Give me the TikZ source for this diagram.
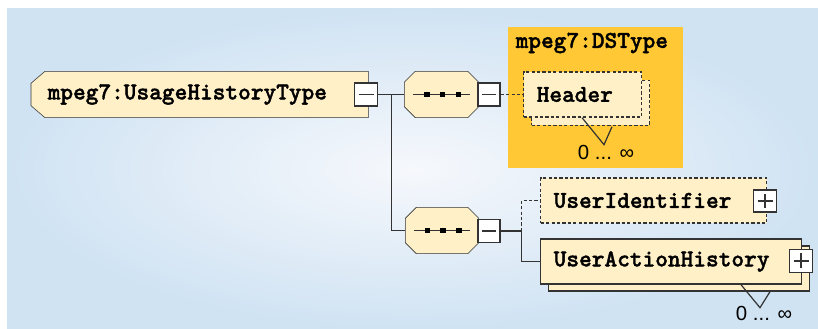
\documentclass[tikz,border=0pt]{standalone}
\usepackage{fontspec}
\newfontfamily\schemasans{Liberation Sans}
\newfontfamily\schemamono{lmmonolt10-bold.otf}[FakeBold=1.5]
\usetikzlibrary{positioning,shadows,backgrounds}

\definecolor{elemfill}{HTML}{FFF0C8}
\definecolor{dsorange}{HTML}{FFC834}
\definecolor{linegray}{HTML}{333333}
\definecolor{bgblue}{HTML}{D0E3F3}
\definecolor{bglight}{HTML}{F6F8FC}

\begin{document}
\begin{tikzpicture}[x=0.25mm, y=-0.25mm, line width=0.35mm,
  every node/.style={font=\schemamono\fontsize{17.2}{20}\selectfont},
  elem/.style={draw=linegray, fill=elemfill, rectangle, anchor=west,
    minimum height=11.25mm, inner xsep=3.25mm, inner ysep=0pt, align=left},
  shapeonly/.style={rectangle, inner sep=0pt, minimum height=11.25mm},
  seqicon/.style={path picture={
      \draw[linegray, line width=0.4mm]
        ([xshift=2mm]path picture bounding box.west) --
        ([xshift=-2mm]path picture bounding box.east);
      \foreach \d in {-3.6mm,0.2mm,4.2mm}
        \fill[black] ([xshift=\d]path picture bounding box.center)
          +(-0.7mm,-0.7mm) rectangle +(0.7mm,0.7mm);
    }},
  togglebox/.style={draw=linegray, fill=white, rectangle, inner sep=0pt,
    minimum width=5.75mm, minimum height=5.75mm},
  minbox/.style={togglebox, path picture={
      \draw[linegray, line width=0.45mm]
        ([xshift=1mm]path picture bounding box.west) --
        ([xshift=-1mm]path picture bounding box.east);}},
  plusbox/.style={togglebox, path picture={
      \draw[linegray, line width=0.4mm]
        ([xshift=1mm]path picture bounding box.west) --
        ([xshift=-1mm]path picture bounding box.east);
      \draw[linegray, line width=0.4mm]
        ([yshift=1mm]path picture bounding box.south) --
        ([yshift=-1mm]path picture bounding box.north);}},
  optional/.style={dash pattern=on 0.8mm off 0.55mm},
  card/.style={font=\schemasans\fontsize{14.5}{16}\selectfont, inner sep=0pt},
  wire/.style={draw=linegray},
  outline/.style={draw=linegray, fill=elemfill}]

  % achtergrond
  \useasboundingbox (0,0) rectangle (818,329);
  \begin{scope}[on background layer]
    \shade[inner color=bglight, outer color=bgblue] (7,9) rectangle (818,329);
  \end{scope}

  % DSType-kader
  \fill[dsorange] (508,27) rectangle (683,168);
  \node[anchor=west, inner sep=0pt] (dstitle) at (515,43) {mpeg7:DSType};

  % hoofdtype (omtrek komt later op de achtergrondlaag)
  \node[shapeonly, anchor=west, minimum width=84mm, text width=76.5mm,
    align=left] (usage) at (31,94.5) {\hspace*{0.25mm}mpeg7:UsageHistoryType};
  \node[minbox] (usagemin) at (366,94.5) {};

  % sequenties
  \node[shapeonly, minimum width=18.25mm, seqicon] (seqa) at (441.5,94.5) {};
  \node[minbox, minimum width=5.5mm] (seqamin) at (489,94.5) {};
  \node[shapeonly, minimum width=18mm, seqicon] (seqb) at (442,230.5) {};
  \node[minbox, minimum width=5.5mm] (seqbmin) at (489,231) {};

  % achtergrondlaag: afgeschuinde omtrekken
  \begin{scope}[on background layer]
    \draw[outline] ([xshift=3.5mm]usage.north west) -- (usage.north east)
      -- (usage.south east) -- ([xshift=3.5mm]usage.south west)
      -- ([yshift=3mm]usage.south west) -- ([yshift=-3mm]usage.north west)
      -- cycle;
    \foreach \s in {seqa,seqb}
      \draw[outline] ([xshift=2.75mm]\s.north west)
        -- ([xshift=-2.75mm]\s.north east) -- ([yshift=-2.75mm]\s.north east)
        -- ([yshift=2.75mm]\s.south east) -- ([xshift=-2.75mm]\s.south east)
        -- ([xshift=2.75mm]\s.south west) -- ([yshift=2.75mm]\s.south west)
        -- ([yshift=-2.75mm]\s.north west) -- cycle;
  \end{scope}

  % elementen
  \node[elem, optional, text width=23mm,
    copy shadow={shadow xshift=2mm, shadow yshift=-2.1mm, fill=elemfill,
      draw=linegray, optional}] (header) at (523,94.5) {Header};
  \node[elem, optional, text width=50mm] (userid) at (540,200.5)
    {UserIdentifier};
  \node[plusbox, minimum height=5.5mm] (useridplus) at (765,201) {};
  \node[elem, text width=58.75mm,
    copy shadow={shadow xshift=2mm, shadow yshift=-1.75mm, fill=elemfill,
      draw=linegray}] (history) at (540,261.5) {UserActionHistory};
  \node[plusbox] (historyplus) at (801,261) {};

  % verbindingen
  \draw[wire] (usagemin.east) -- (seqa.west);
  \draw[wire] (usagemin.east) -- ++(13,0) |- (seqb.west);
  \draw[wire, optional] (seqamin.east) -- (header.west);
  \draw[wire] (seqbmin.east) -- ++(21,0) coordinate (fork);
  \draw[wire, optional] (fork) |- (userid.west);
  \draw[wire] (fork) |- (history.west);

  % kardinaliteit
  \draw[wire, line width=0.3mm] ([xshift=14.75mm]header.south west)
    -- ++(22,27) coordinate (hdrtip) -- ++(8,-18);
  \node[card] (hdrcard) at (606,152) {0 ... ∞};
  \draw[wire, line width=0.3mm] ([xshift=50.25mm]history.south west)
    -- ++(19,23) coordinate (histtip) -- ++(10,-16);
  \node[card] (histcard) at (764,313) {0 ... ∞};
\end{tikzpicture}
\end{document}
